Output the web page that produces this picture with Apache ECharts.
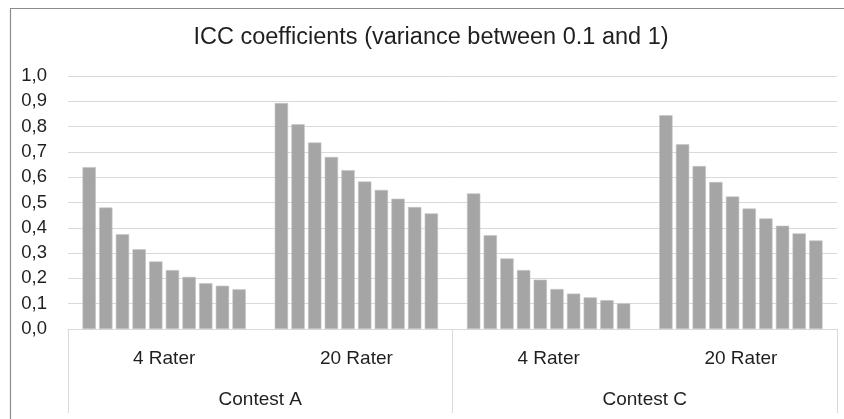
<!DOCTYPE html>
<html>
<head>
<meta charset="utf-8">
<title>ICC coefficients</title>
<script src="https://cdn.jsdelivr.net/npm/echarts@6/dist/echarts.min.js"></script>
<style>
  html, body { margin: 0; padding: 0; background: #ffffff; }
  #chart { width: 844px; height: 419px; }
</style>
</head>
<body>
<div id="chart"></div>
<script>
// Rater groups (inner category level) and contests (outer level)
const raterLabels = ['4 Rater', '20 Rater', '4 Rater', '20 Rater'];
const contestLabels = ['Contest A', 'Contest C'];

// ICC per variance step (10 steps from 0.1 to 1), one list per group
const contestA4 = [0.640, 0.480, 0.375, 0.315, 0.267, 0.233, 0.206, 0.181, 0.171, 0.157];
const contestA20 = [0.893, 0.809, 0.737, 0.680, 0.628, 0.583, 0.550, 0.515, 0.482, 0.457];
const contestC4 = [0.536, 0.371, 0.279, 0.233, 0.195, 0.158, 0.140, 0.125, 0.114, 0.101];
const contestC20 = [0.845, 0.730, 0.644, 0.581, 0.524, 0.476, 0.437, 0.408, 0.378, 0.350];

const stepNames = ['1', '2', '3', '4', '5', '6', '7', '8', '9', '10'];

const yMin = 0;
const yMax = 1;
const yStep = 0.1;

const FONT = '"Liberation Sans", Arial, sans-serif';
const TEXT = '#1f1f1f';
const LINE = '#d9d9d9';
const BAR = '#a5a5a5';

const groups = [contestA4, contestA20, contestC4, contestC20];
const series = stepNames.map((name, i) => ({
  name: 'Step ' + name,
  type: 'bar',
  data: groups.map(g => g[i]),
  barWidth: 13.33,
  barGap: '25%',
  itemStyle: { color: BAR, borderColor: '#c4c4c4', borderWidth: 0.6 },
  silent: true
}));

const chart = echarts.init(document.getElementById('chart'), null, { renderer: 'canvas' });
chart.setOption({
  animation: false,
  backgroundColor: '#ffffff',
  title: {
    text: 'ICC coefficients (variance between 0.1 and 1)',
    left: 431,
    textAlign: 'center',
    top: 26,
    padding: 0,
    textStyle: { fontFamily: FONT, fontSize: 23.5, fontWeight: 'normal', color: TEXT }
  },
  grid: { left: 68, right: 7, top: 76, bottom: 90, containLabel: false },
  xAxis: [
    {
      type: 'category',
      data: raterLabels,
      position: 'bottom',
      axisLine: { show: true, lineStyle: { color: LINE, width: 1 } },
      axisTick: { show: false },
      axisLabel: { margin: 20, fontFamily: FONT, fontSize: 19, color: TEXT }
    },
    {
      type: 'category',
      data: contestLabels,
      position: 'bottom',
      offset: 0,
      axisLine: { show: false },
      axisTick: { show: true, length: 84, lineStyle: { color: LINE, width: 1 } },
      axisLabel: { margin: 61, fontFamily: FONT, fontSize: 19, color: TEXT },
      splitLine: { show: false }
    }
  ],
  yAxis: {
    type: 'value',
    min: yMin,
    max: yMax,
    interval: yStep,
    axisLine: { show: false },
    axisTick: { show: false },
    splitLine: { show: true, lineStyle: { color: LINE, width: 1 } },
    axisLabel: {
      margin: 21,
      fontFamily: FONT,
      fontSize: 18.5,
      color: TEXT,
      formatter: v => v.toFixed(1).replace('.', ',')
    }
  },
  graphic: [
    {
      type: 'rect',
      silent: true,
      shape: { x: 10.5, y: 8.5, width: 1000, height: 1000 },
      style: { fill: null, stroke: '#8c8c8c', lineWidth: 1.2 }
    }
  ],
  series: series
});
</script>
</body>
</html>
